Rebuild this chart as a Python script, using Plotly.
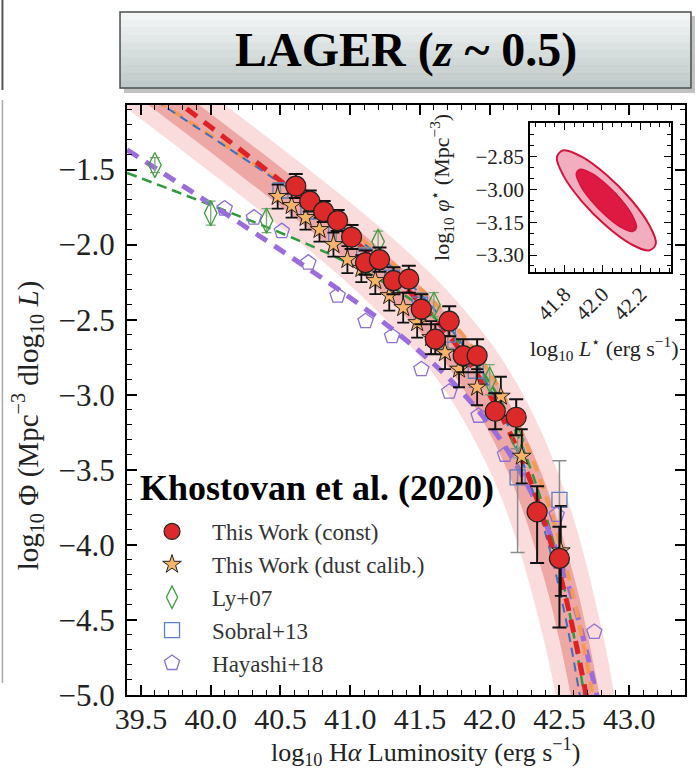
import plotly.graph_objects as go

# ---------------- data ----------------
const_x = [40.61, 40.71, 40.81, 40.91, 41.01, 41.11, 41.21, 41.31, 41.42, 41.51, 41.61, 41.71, 41.81, 41.91, 42.04, 42.19, 42.34, 42.50]
const_y = [-1.61, -1.71, -1.78, -1.84, -1.95, -2.12, -2.10, -2.24, -2.23, -2.43, -2.63, -2.51, -2.74, -2.74, -3.11, -3.15, -3.78, -4.09]
const_ep = [0.08, 0.07, 0.07, 0.07, 0.08, 0.08, 0.08, 0.09, 0.09, 0.10, 0.10, 0.10, 0.11, 0.11, 0.12, 0.12, 0.17, 0.21]
const_em = [0.08, 0.07, 0.07, 0.07, 0.08, 0.08, 0.08, 0.09, 0.09, 0.10, 0.10, 0.10, 0.11, 0.11, 0.12, 0.12, 0.34, 0.46]

dust_x = [40.48, 40.58, 40.68, 40.78, 40.88, 40.98, 41.08, 41.18, 41.28, 41.38, 41.48, 41.58, 41.68, 41.78, 41.91, 42.08, 42.23, 42.51]
dust_y = [-1.68, -1.74, -1.82, -1.90, -2.00, -2.10, -2.16, -2.24, -2.34, -2.42, -2.52, -2.62, -2.72, -2.83, -2.95, -3.01, -3.41, -4.04]
dust_e = [0.08, 0.08, 0.08, 0.08, 0.08, 0.09, 0.09, 0.09, 0.10, 0.10, 0.10, 0.11, 0.11, 0.12, 0.12, 0.13, 0.18, 0.30]

ly_x = [39.60, 40.00, 40.40, 41.20, 41.60, 42.00, 42.20]
ly_y = [-1.47, -1.79, -1.84, -1.98, -2.40, -2.90, -3.30]
ly_e = [0.05, 0.08, 0.08, 0.07, 0.08, 0.10, 0.12]

sob_x = [40.50, 40.70, 40.90, 41.10, 41.30, 41.50, 41.70, 41.90, 42.20, 42.50]
sob_y = [-1.64, -1.78, -1.93, -2.08, -2.22, -2.40, -2.60, -2.84, -3.55, -3.70]
sob_ep = [0.05, 0.05, 0.06, 0.06, 0.07, 0.08, 0.09, 0.11, 0.19, 0.26]
sob_em = [0.05, 0.05, 0.06, 0.06, 0.07, 0.08, 0.09, 0.11, 0.50, 0.40]

hay_x = [40.10, 40.31, 40.51, 40.70, 40.91, 41.11, 41.30, 41.51, 41.71, 41.92, 42.11, 42.48, 42.75]
hay_y = [-1.76, -1.82, -1.91, -2.12, -2.34, -2.51, -2.61, -2.83, -2.98, -3.14, -3.40, -3.80, -4.58]

# fitted curves
fit_const_x = [39.7, 40.0, 40.3, 40.6, 40.9, 41.2, 41.5, 41.7, 41.9, 42.1, 42.3, 42.5, 42.6, 42.7]
fit_const_y = [-1.005, -1.217, -1.431, -1.648, -1.874, -2.114, -2.385, -2.597, -2.850, -3.170, -3.595, -4.187, -4.574, -5.043]
fit_dust_x = [39.5, 39.9, 40.3, 40.7, 41.1, 41.4, 41.7, 42.0, 42.2, 42.4, 42.6, 42.75]
fit_dust_y = [-0.971, -1.213, -1.458, -1.709, -1.978, -2.206, -2.481, -2.851, -3.194, -3.667, -4.346, -5.062]
fit_sob_x = [39.6, 40.0, 40.4, 40.8, 41.2, 41.5, 41.8, 42.0, 42.2, 42.4, 42.55, 42.7]
fit_sob_y = [-1.037, -1.280, -1.527, -1.785, -2.071, -2.327, -2.659, -2.957, -3.359, -3.925, -4.514, -5.309]
fit_ly_x = [39.4, 39.8, 40.2, 40.6, 41.0, 41.4, 41.7, 42.0, 42.2, 42.4, 42.55, 42.7]
fit_ly_y = [-1.522, -1.664, -1.809, -1.960, -2.130, -2.343, -2.570, -2.918, -3.273, -3.795, -4.353, -5.118]
fit_hay_x = [39.4, 39.8, 40.2, 40.6, 41.0, 41.4, 41.7, 42.0, 42.2, 42.4, 42.6, 42.8]
fit_hay_y = [-1.368, -1.609, -1.851, -2.098, -2.354, -2.636, -2.884, -3.201, -3.481, -3.855, -4.378, -5.136]

# confidence bands of the constant-correction fit
band_out_up_x = [39.4, 39.8, 40.2, 40.6, 41.0, 41.4, 41.7, 42.0, 42.2, 42.4, 42.6, 42.8, 42.9, 43.0]
band_out_up_y = [-0.574, -0.855, -1.138, -1.424, -1.719, -2.037, -2.310, -2.646, -2.934, -3.309, -3.820, -4.549, -5.032, -5.62]
band_out_lo_x = [39.4, 39.8, 40.2, 40.6, 41.0, 41.4, 41.7, 42.0, 42.2, 42.4, 42.5, 42.6]
band_out_lo_y = [-1.094, -1.376, -1.662, -1.956, -2.272, -2.641, -3.000, -3.505, -3.992, -4.681, -5.137, -5.692]
band_in_up_x = [39.4, 39.8, 40.2, 40.6, 41.0, 41.4, 41.7, 42.0, 42.2, 42.4, 42.6, 42.7, 42.8, 42.9]
band_in_up_y = [-0.706, -0.987, -1.270, -1.558, -1.857, -2.184, -2.473, -2.840, -3.164, -3.595, -4.198, -4.592, -5.070, -5.654]
band_in_lo_x = [39.4, 39.8, 40.2, 40.6, 41.0, 41.4, 41.7, 42.0, 42.2, 42.4, 42.5, 42.6, 42.7]
band_in_lo_y = [-0.962, -1.244, -1.529, -1.820, -2.129, -2.481, -2.810, -3.257, -3.676, -4.257, -4.637, -5.097, -5.65]

# inset: confidence contours of (log L*, log phi*)
ell_out_x = [42.28, 42.245, 42.15, 42.02, 41.89, 41.795, 41.76, 41.795, 41.89, 42.02, 42.15, 42.245, 42.28]
ell_out_y = [-3.247, -3.162, -3.047, -2.933, -2.850, -2.821, -2.853, -2.938, -3.053, -3.167, -3.250, -3.279, -3.247]
ell_in_x = [42.178, 42.157, 42.099, 42.02, 41.941, 41.883, 41.862, 41.883, 41.941, 42.02, 42.099, 42.157, 42.178]
ell_in_y = [-3.172, -3.120, -3.048, -2.978, -2.926, -2.908, -2.928, -2.980, -3.052, -3.122, -3.174, -3.192, -3.172]

legend_names = ["This Work (const)", "This Work (dust calib.)", "Ly+07", "Sobral+13", "Hayashi+18"]
main_xticks = [39.5, 40.0, 40.5, 41.0, 41.5, 42.0, 42.5, 43.0]
main_yticks = [-5.0, -4.5, -4.0, -3.5, -3.0, -2.5, -2.0, -1.5]
inset_xticks = [41.8, 42.0, 42.2]
inset_yticks = [-3.30, -3.15, -3.00, -2.85]

SERIF = "Liberation Serif"

fig = go.Figure()

# bands
fig.add_trace(go.Scatter(
    x=band_out_up_x + band_out_lo_x[::-1], y=band_out_up_y + band_out_lo_y[::-1],
    fill="toself", fillcolor="#fadcdc", line=dict(width=0, shape="spline"),
    mode="lines", showlegend=False, hoverinfo="skip"))
fig.add_trace(go.Scatter(
    x=band_in_up_x + band_in_lo_x[::-1], y=band_in_up_y + band_in_lo_y[::-1],
    fill="toself", fillcolor="#eda7a5", line=dict(width=0, shape="spline"),
    mode="lines", showlegend=False, hoverinfo="skip"))

# fit lines
def add_line(x, y, color, width, dash):
    fig.add_trace(go.Scatter(x=x, y=y, mode="lines",
                             line=dict(color=color, width=width, dash=dash, shape="spline"),
                             showlegend=False, hoverinfo="skip"))

add_line(fit_ly_x, fit_ly_y, "#2f9a3a", 2.5, "10px,6px")
add_line(fit_hay_x, fit_hay_y, "#9a6cdc", 5, "13px,9px")
add_line(fit_dust_x, fit_dust_y, "#f59a55", 4, "11px,8px")
add_line(fit_sob_x, fit_sob_y, "#3d6fc0", 2, "9px,6px")
add_line(fit_const_x, fit_const_y, "#dd2227", 5, "13px,9px")

# data points
fig.add_trace(go.Scatter(
    x=ly_x, y=ly_y, mode="markers", name=legend_names[2], legendgroup="c", legendrank=3,
    marker=dict(symbol="diamond-tall-open", size=18, color="#3d9d3d", line=dict(width=1.3)),
    error_y=dict(type="data", array=ly_e, color="#7aa87a", thickness=1.3, width=5)))
fig.add_trace(go.Scatter(
    x=sob_x, y=sob_y, mode="markers", name=legend_names[3], legendgroup="d", legendrank=4,
    marker=dict(symbol="square-open", size=15, color="#5b80c2", line=dict(width=1.3)),
    error_y=dict(type="data", array=sob_ep, arrayminus=sob_em, color="#8c8c8c", thickness=1.5, width=7)))
fig.add_trace(go.Scatter(
    x=hay_x, y=hay_y, mode="markers", name=legend_names[4], legendgroup="e", legendrank=5,
    marker=dict(symbol="pentagon-open", size=16, color="#8c70d4", line=dict(width=1.3))))
fig.add_trace(go.Scatter(
    x=dust_x, y=dust_y, mode="markers", name=legend_names[1], legendgroup="b", legendrank=2,
    marker=dict(symbol="star", size=14, color="#f7b36a", line=dict(width=1, color="#222")),
    error_y=dict(type="data", array=dust_e, color="#111", thickness=1.8, width=6)))
fig.add_trace(go.Scatter(
    x=const_x, y=const_y, mode="markers", name=legend_names[0], legendgroup="a", legendrank=1,
    marker=dict(symbol="circle", size=20, color="#dc2a2a", line=dict(width=1.2, color="#222")),
    error_y=dict(type="data", array=const_ep, arrayminus=const_em, color="#111", thickness=2, width=7)))

# inset contours
fig.add_trace(go.Scatter(
    x=ell_out_x, y=ell_out_y, xaxis="x2", yaxis="y2", mode="lines", fill="toself",
    fillcolor="#f2aebe", line=dict(color="#d3143c", width=2, shape="spline"),
    showlegend=False, hoverinfo="skip"))
fig.add_trace(go.Scatter(
    x=ell_in_x, y=ell_in_y, xaxis="x2", yaxis="y2", mode="lines", fill="toself",
    fillcolor="#de1a42", line=dict(color="#d3143c", width=1.5, shape="spline"),
    showlegend=False, hoverinfo="skip"))

axis_common = dict(showline=True, linecolor="black", linewidth=2, mirror="ticks",
                   ticks="inside", tickcolor="black", showgrid=False, zeroline=False)

fig.update_layout(
    width=697, height=772,
    margin=dict(l=127, r=10, t=105, b=77),
    paper_bgcolor="white", plot_bgcolor="white",
    font=dict(family=SERIF, color="#222"),
    xaxis=dict(range=[39.4, 43.4], tickvals=main_xticks, tickformat=".1f",
               ticklen=10, tickwidth=1.5, tickfont=dict(size=30, family=SERIF, color="#222"),
               minor=dict(ticks="inside", ticklen=5, dtick=0.1, tick0=39.4, tickcolor="black", tickwidth=1),
               ticklabelstandoff=-4, **axis_common),
    yaxis=dict(range=[-5.0, -1.07], tickvals=main_yticks, tickformat=".1f",
               ticklen=10, tickwidth=1.5, tickfont=dict(size=31, family=SERIF, color="#222"),
               minor=dict(ticks="inside", ticklen=5, dtick=0.1, tick0=-5.0, tickcolor="black", tickwidth=1),
               ticklabelstandoff=4, **axis_common),
    xaxis2=dict(domain=[0.7227, 0.975], anchor="y2", range=[41.62, 42.36], tickvals=inset_xticks,
                tickformat=".1f", tickangle=-45, ticklen=7, tickwidth=1.2,
                tickfont=dict(size=21, family=SERIF, color="#222"),
                minor=dict(ticks="inside", ticklen=4, dtick=0.05, tick0=41.6, tickcolor="black"),
                **axis_common),
    yaxis2=dict(domain=[0.7175, 0.9695], anchor="x2", range=[-3.376, -2.696], tickvals=inset_yticks,
                tickformat=".2f", ticklen=7, tickwidth=1.2,
                tickfont=dict(size=21, family=SERIF, color="#222"),
                minor=dict(ticks="inside", ticklen=4, dtick=0.05, tick0=-3.35, tickcolor="black"),
                **axis_common),
    legend=dict(x=0.009, y=0.3136, xanchor="left", yanchor="top",
                font=dict(family=SERIF, size=23, color="#333"),
                bgcolor="rgba(0,0,0,0)", itemwidth=70, tracegroupgap=4,
                traceorder="normal"),
)

def py(p):
    return (695 - p) / 590.0

def px(p):
    return (p - 127) / 560.0

annotations = [
    dict(text="<b>LAGER (<i>z</i> ~ 0.5)</b>", x=px(407), y=py(50), xref="paper", yref="paper",
         showarrow=False, font=dict(family=SERIF, size=48, color="black"),
         xanchor="center", yanchor="middle"),
    dict(text="<b>Khostovan et al. (2020)</b>", x=px(318), y=py(488), xref="paper", yref="paper",
         showarrow=False, font=dict(family=SERIF, size=36, color="black"),
         xanchor="center", yanchor="middle"),
    dict(text="log<sub>10</sub> H<i>α</i> Luminosity (erg s<sup>−1</sup>)", x=px(427), y=py(752),
         xref="paper", yref="paper", showarrow=False,
         font=dict(family=SERIF, size=26, color="#222"), xanchor="center", yanchor="middle"),
    dict(text="log<sub>10</sub> Φ (Mpc<sup>−3</sup> dlog<sub>10</sub> <i>L</i>)", x=px(27), y=py(425),
         xref="paper", yref="paper", showarrow=False, textangle=-90,
         font=dict(family=SERIF, size=29, color="#222"), xanchor="center", yanchor="middle"),
    dict(text="log<sub>10</sub> <i>L</i><sup>⋆</sup> (erg s<sup>−1</sup>)", x=px(606), y=py(348),
         xref="paper", yref="paper", showarrow=False,
         font=dict(family=SERIF, size=22, color="#222"), xanchor="center", yanchor="middle"),
    dict(text="log<sub>10</sub> <i>φ</i><sup>⋆</sup> (Mpc<sup>−3</sup>)", x=px(442), y=py(187),
         xref="paper", yref="paper", showarrow=False, textangle=-90,
         font=dict(family=SERIF, size=22, color="#222"), xanchor="center", yanchor="middle"),
]
fig.update_layout(annotations=annotations)

# title box with a simple vertical gradient and shadow
shapes = []
shapes.append(dict(type="rect", xref="paper", yref="paper", x0=px(124), x1=px(697), y0=py(93), y1=py(16),
                   fillcolor="#9a9a9a", line=dict(width=0), opacity=0.6, layer="above"))
stripe_cols = ["#f4f6f6", "#eef1f1", "#e8ecec", "#e2e7e7", "#dce2e2", "#d6dddd", "#d1d8d8", "#cbd3d3", "#c6cece", "#c1caca"]
top, bot = 12, 88
h = (bot - top) / len(stripe_cols)
for i, c in enumerate(stripe_cols):
    shapes.append(dict(type="rect", xref="paper", yref="paper", x0=px(120), x1=px(693),
                       y0=py(top + (i + 1) * h + 0.5), y1=py(top + i * h),
                       fillcolor=c, line=dict(width=0), layer="above"))
shapes.append(dict(type="rect", xref="paper", yref="paper", x0=px(120), x1=px(693), y0=py(88), y1=py(12),
                   fillcolor="rgba(0,0,0,0)", line=dict(color="#4a4f4f", width=1.5), layer="above"))
# fragments of neighbouring panel
shapes.append(dict(type="line", xref="paper", yref="paper", x0=px(2), x1=px(2), y0=py(0), y1=py(90),
                   line=dict(color="#555", width=2), layer="above"))
shapes.append(dict(type="line", xref="paper", yref="paper", x0=px(2), x1=px(2), y0=py(100), y1=py(683),
                   line=dict(color="#aaa", width=1.5), layer="above"))
fig.update_layout(shapes=shapes)

fig.write_html("out.html")
